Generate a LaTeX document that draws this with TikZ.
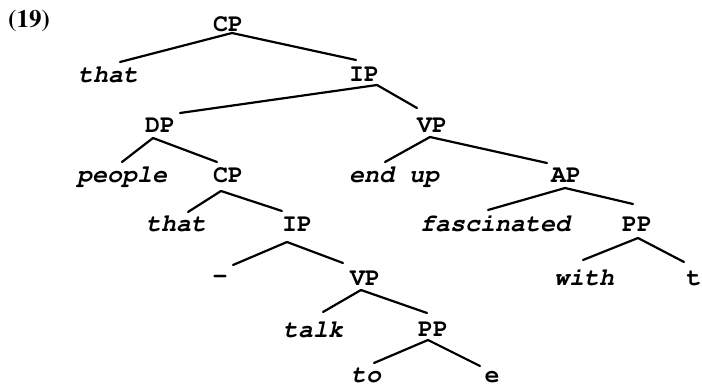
\documentclass[tikz,border=0pt]{standalone}
\usepackage[T1]{fontenc}
\usetikzlibrary{calc}
\tikzset{
  cat/.style={anchor=base, inner sep=0pt, font=\fontsize{25}{29}\fontfamily{pcr}\fontseries{b}\fontshape{n}\selectfont},
  word/.style={anchor=base, inner sep=0pt, font=\fontsize{25}{29}\fontfamily{pcr}\fontseries{b}\fontshape{sl}\selectfont},
  branch/.style={line width=2.2pt, line cap=round},
}
% branch from a point near the parent's baseline to a point above the child's baseline
\newcommand\treeedge[6]{\draw[branch] ($(#1.base)+(#2,#3)$) -- ($(#4.base)+(#5,#6)$);}
\begin{document}
\begin{tikzpicture}[x=1pt,y=-1pt]
\useasboundingbox (0,0) rectangle (702,385);

\node[anchor=base, inner sep=0pt, font=\fontsize{25}{29}\fontfamily{ptm}\fontseries{b}\selectfont] (num) at (29,28) {(19)};

% categories and words, placed by baseline
\node[cat]  (cp1)   at (228,32)  {CP};
\node[word] (that1) at (108,83)  {that};
\node[cat]  (ip1)   at (364,82)  {IP};
\node[cat]  (dp)    at (160,133) {DP};
\node[cat]  (vp1)   at (432,133) {VP};
\node[word] (people) at (122,183) {people};
\node[cat]  (cp2)   at (228,183) {CP};
\node[word] (endup) at (394,183) {end up};
\node[cat]  (ap)    at (566,183) {AP};
\node[word] (that2) at (176,232) {that};
\node[cat]  (ip2)   at (297,232) {IP};
\node[word] (fasc)  at (495,231) {fascinated};
\node[cat]  (pp1)   at (637,231) {PP};
\node[cat]  (dash)  at (220,283) {-};
\node[cat]  (vp2)   at (365,285) {VP};
\node[word] (with)  at (584,285) {with};
\node[cat]  (t)     at (694,285) {t};
\node[word] (talk)  at (313,337) {talk};
\node[cat]  (pp2)   at (433,336) {PP};
\node[word] (to)    at (366,382) {to};
\node[cat]  (e)     at (492,382) {e};

% branches
\treeedge{cp1}{4}{1}{that1}{12}{-21}
\treeedge{cp1}{4}{1}{ip1}{-8}{-22}
\treeedge{ip1}{13}{3}{dp}{20}{-20}
\treeedge{ip1}{13}{3}{vp1}{-15}{-25}
\treeedge{dp}{-7}{5}{people}{0}{-21}
\treeedge{dp}{-7}{5}{cp2}{-11}{-21}
\treeedge{vp1}{-2}{4}{endup}{-9}{-21}
\treeedge{vp1}{-2}{4}{ap}{-19}{-20}
\treeedge{cp2}{-7}{8}{that2}{12}{-20}
\treeedge{cp2}{-7}{8}{ip2}{-15}{-21}
\treeedge{ap}{-1}{5}{fasc}{-7}{-21}
\treeedge{ap}{-1}{5}{pp1}{-4}{-27}
\treeedge{ip2}{-10}{10}{dash}{13}{-18}
\treeedge{ip2}{-10}{10}{vp2}{-22}{-22}
\treeedge{pp1}{1}{7}{with}{-1}{-25}
\treeedge{pp1}{1}{7}{t}{-10}{-23}
\treeedge{vp2}{-4}{5}{talk}{10}{-25}
\treeedge{vp2}{-4}{5}{pp2}{-6}{-23}
\treeedge{pp2}{-5}{4}{to}{8}{-19}
\treeedge{pp2}{-5}{4}{e}{-12}{-16}
\end{tikzpicture}
\end{document}
